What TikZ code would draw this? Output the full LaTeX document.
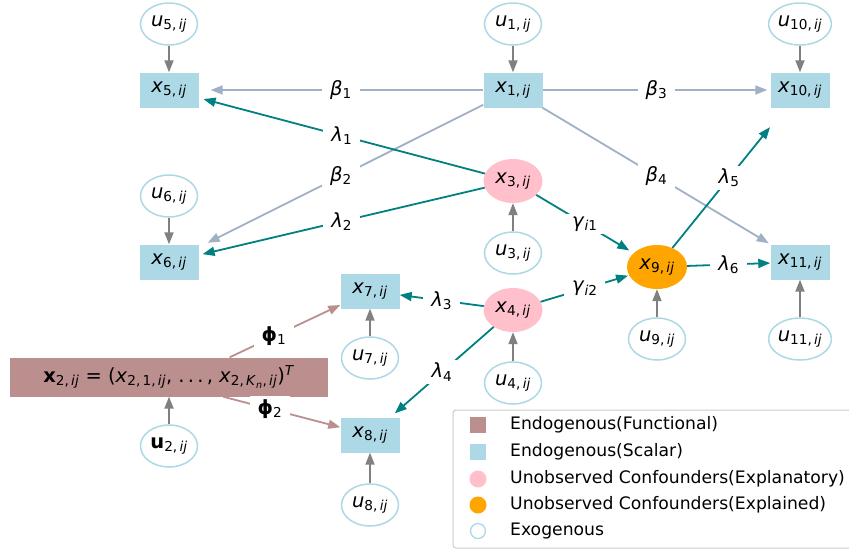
\documentclass[tikz,border=0pt]{standalone}
\usepackage{fontspec}
\setmainfont{DejaVu Sans}
\usepackage{xcolor}
\usepackage{tikz}
\usetikzlibrary{shapes.geometric}
\usetikzlibrary{arrows.meta}
\definecolor{scalarblue}{HTML}{ADD8E6}
\definecolor{confpink}{HTML}{FFC0CB}
\definecolor{conforange}{HTML}{FFA500}
\definecolor{funcrose}{HTML}{BC8F8F}
\definecolor{betagray}{HTML}{A0B1C6}
\definecolor{lamteal}{HTML}{008080}
\definecolor{exogray}{HTML}{808080}
\tikzstyle{scalarbox} = [rectangle, fill=scalarblue, minimum width=59pt,
minimum height=35pt, inner sep=0pt]
\tikzstyle{funcbox} = [rectangle, fill=funcrose, minimum width=318pt,
minimum height=39pt, inner sep=0pt]
\tikzstyle{exonode} = [ellipse, draw=scalarblue, line width=1.5pt, fill=white,
minimum width=57pt, minimum height=42pt, inner sep=0pt]
\tikzstyle{confnode} = [ellipse, minimum width=59pt, minimum height=44pt, inner sep=0pt]
\tikzstyle{exoedge} = [draw=exogray, line width=1.8pt, -{Triangle[length=12pt,width=9pt]}]
\tikzstyle{betaedge} = [draw=betagray, line width=1.8pt, -{Triangle[length=12pt,width=9pt]}]
\tikzstyle{lamedge} = [draw=lamteal, line width=1.8pt, -{Triangle[length=12pt,width=9pt]}]
\tikzstyle{phiedge} = [draw=funcrose, line width=1.8pt, -{Triangle[length=12pt,width=9pt]}]
\tikzstyle{edgelabel} = [fill=white, inner xsep=8pt, inner ysep=3pt]
\tikzstyle{legsq} = [rectangle, minimum size=16pt, inner sep=0pt]
\tikzstyle{legdot} = [circle, minimum size=17pt, inner sep=0pt]
\tikzstyle{legtext} = [anchor=west, inner sep=0pt, font=\fontsize{17.2}{20}\selectfont]
\newcommand{\vx}[1]{\textit{x}\textsubscript{#1,\,\textit{ij}}}
\newcommand{\vu}[1]{\textit{u}\textsubscript{#1,\,\textit{ij}}}

\begin{document}
\begin{tikzpicture}[x=1pt, y=-1pt, font=\fontsize{19.5}{22}\selectfont]
    \useasboundingbox (0,0) rectangle (849,550);
    % observed scalar variables and their errors
    \node[exonode] (u5) at (169,24) {\vu{5}};
    \node[scalarbox] (x5) at (169,90) {\vx{5}};
    \node[exonode] (u6) at (169,196) {\vu{6}};
    \node[scalarbox] (x6) at (169,262) {\vx{6}};
    \node[exonode] (u1) at (513,24) {\vu{1}};
    \node[scalarbox] (x1) at (513,90) {\vx{1}};
    \node[exonode] (u10) at (800,24) {\vu{10}};
    \node[scalarbox] (x10) at (800,90) {\vx{10}};
    \node[scalarbox] (x11) at (800,262) {\vx{11}};
    \node[exonode] (u11) at (800,339) {\vu{11}};
    \node[scalarbox] (x7) at (370,291) {\vx{7}};
    \node[exonode] (u7) at (370,358) {\vu{7}};
    \node[scalarbox] (x8) at (370,435) {\vx{8}};
    \node[exonode] (u8) at (370,505) {\vu{8}};
    % confounders
    \node[confnode, fill=confpink] (x3) at (513,181) {\vx{3}};
    \node[exonode] (u3) at (513,253) {\vu{3}};
    \node[confnode, fill=confpink] (x4) at (513,310) {\vx{4}};
    \node[exonode] (u4) at (513,383) {\vu{4}};
    \node[confnode, fill=conforange, minimum width=60pt] (x9) at (657,267) {\vx{9}};
    \node[exonode] (u9) at (657,339) {\vu{9}};
    % functional variable
    \node[funcbox] (x2) at (169,377) {\textbf{x}\textsubscript{2,\,\textit{ij}}
        = (\textit{x}\textsubscript{2,\,1,\,\textit{ij}}, .\,.\,.\,, \textit{x}\textsubscript{2,\,\textit{K}\textsubscript{\textit{n}},\,\textit{ij}})\textsuperscript{\textit{T}}};
    \node[exonode] (u2) at (169,446) {\textbf{u}\textsubscript{2,\,\textit{ij}}};

    % errors
    \draw[exoedge] (u5) -- (x5);
    \draw[exoedge] (u6) -- (x6);
    \draw[exoedge] (u1) -- (x1);
    \draw[exoedge] (u10) -- (x10);
    \draw[exoedge] (u3) -- (x3);
    \draw[exoedge] (u4) -- (x4);
    \draw[exoedge] (u9) -- (x9);
    \draw[exoedge] (u11) -- (x11);
    \draw[exoedge] (u7) -- (x7);
    \draw[exoedge] (u8) -- (x8);
    \draw[exoedge] (u2) -- (x2);

    % direct effects of x1
    \draw[betaedge, shorten >=12pt] (x1) -- node[edgelabel] (b1) {\textit{β}\textsubscript{1}} (x5);
    \draw[betaedge, shorten >=3pt] (x1) -- node[edgelabel] (b3) {\textit{β}\textsubscript{3}} (x10);
    \draw[betaedge, shorten >=10pt] (x1) -- node[edgelabel] (b2) {\textit{β}\textsubscript{2}} (x6);
    \draw[betaedge, shorten >=2pt] (x1) -- node[edgelabel] (b4) {\textit{β}\textsubscript{4}} (x11);

    % confounder effects
    \draw[lamedge, shorten >=5pt] (x3) -- node[edgelabel] (l1) {\textit{λ}\textsubscript{1}} (x5);
    \draw[lamedge, shorten >=4pt] (x3) -- node[edgelabel] (l2) {\textit{λ}\textsubscript{2}} (x6);
    \draw[lamedge] (x4) -- node[edgelabel] (l3) {\textit{λ}\textsubscript{3}} (x7);
    \draw[lamedge, shorten >=6pt] (x4) -- node[edgelabel] (l4) {\textit{λ}\textsubscript{4}} (x8);
    \draw[lamedge, shorten >=5pt] (x3) -- node[edgelabel] (g1) {\textit{γ}\textsubscript{\textit{i}1}} (x9);
    \draw[lamedge, shorten >=1pt] (x4) -- node[edgelabel] (g2) {\textit{γ}\textsubscript{\textit{i}2}} (x9);
    \draw[lamedge, shorten >=25pt] (x9) -- node[edgelabel] (l5) {\textit{λ}\textsubscript{5}} (x10);
    \draw[lamedge] (x9) -- node[edgelabel] (l6) {\textit{λ}\textsubscript{6}} (x11);

    % functional effects
    \draw[phiedge] (x2.18) -- node[edgelabel, pos=0.4] (p1) {\textbf{ϕ}\textsubscript{1}} (x7);
    \draw[phiedge] (x2.-20) -- node[edgelabel, pos=0.4] (p2) {\textbf{ϕ}\textsubscript{2}} (x8);

    % legend
    \draw[draw=black!20, line width=1pt, fill=white, rounded corners=3pt] (453,410) rectangle (880,548);
    \node[legsq, fill=funcrose] (m1) at (478,425) {};
    \node[legtext] (t1) at (510,425) {Endogenous(Functional)};
    \node[legsq, fill=scalarblue] (m2) at (478,452) {};
    \node[legtext] (t2) at (510,452) {Endogenous(Scalar)};
    \node[legdot, fill=confpink] (m3) at (478,479) {};
    \node[legtext] (t3) at (510,479) {Unobserved Confounders(Explanatory)};
    \node[legdot, fill=conforange] (m4) at (478,505) {};
    \node[legtext] (t4) at (510,505) {Unobserved Confounders(Explained)};
    \node[legdot, draw=scalarblue, line width=1.3pt, fill=white, minimum size=15pt] (m5) at (478,531) {};
    \node[legtext] (t5) at (510,531) {Exogenous};
\end{tikzpicture}
\end{document}
